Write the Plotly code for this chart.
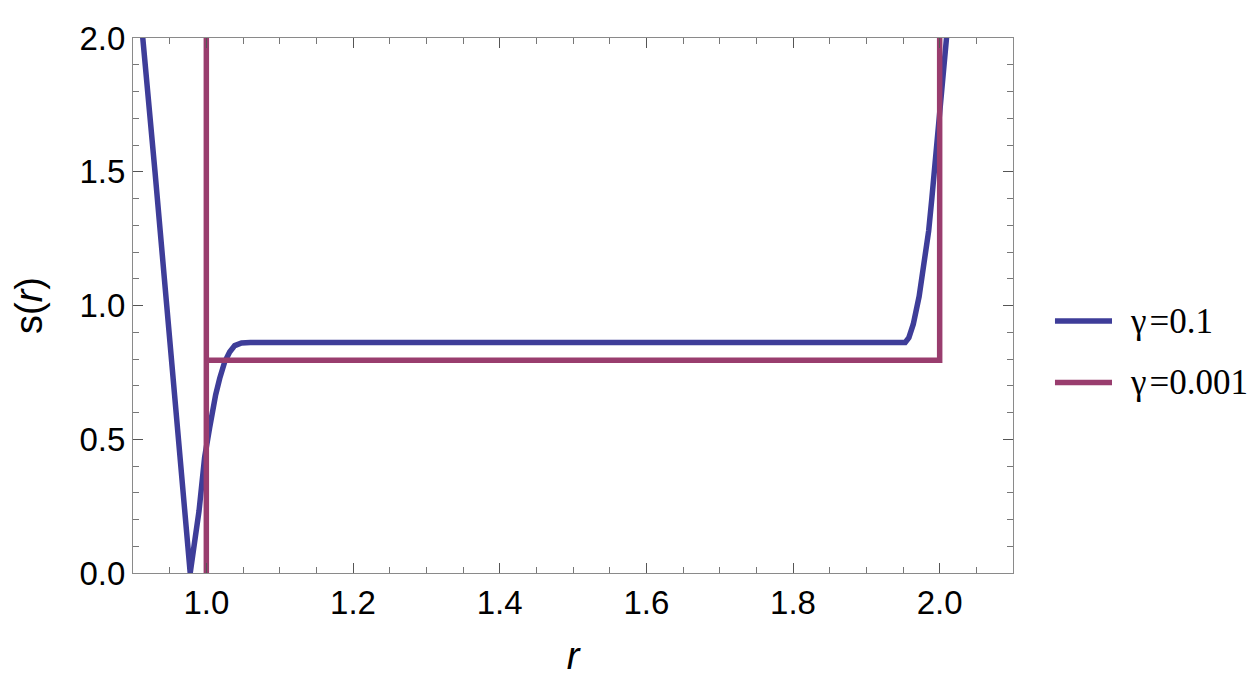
import plotly.graph_objects as go

# --- data ---
r_blue = [0.910, 0.9135, 0.930, 0.946, 0.962, 0.978, 0.990, 0.9977, 1.0045, 1.0082,
          1.0127, 1.0182, 1.0250, 1.0318, 1.0387, 1.048, 1.060, 1.500, 1.940, 1.953,
          1.958, 1.964, 1.972, 1.979, 1.985, 1.9894, 1.9935, 1.9978, 2.0014, 2.0055, 2.009, 2.012]
s_blue = [2.10, 2.0, 1.5, 1.0, 0.5, 0.0, 0.231, 0.433, 0.543, 0.605,
          0.666, 0.727, 0.789, 0.826, 0.850, 0.860, 0.862, 0.862, 0.862, 0.862,
          0.880, 0.930, 1.034, 1.157, 1.279, 1.402, 1.525, 1.647, 1.770, 1.893, 2.0, 2.08]

r_red = [1.0, 1.0, 1.0, 2.0, 2.0]
s_red = [2.10, 0.0, 0.795, 0.795, 2.10]

legend_labels = ["γ\u200a=0.1", "γ\u200a=0.001"]
colors = ["#3e3d99", "#993d6e"]

x_range = [0.9, 2.1]
y_range = [0.0, 2.0]

fig = go.Figure()
fig.add_trace(go.Scatter(x=r_blue, y=s_blue, mode="lines", name=legend_labels[0],
                         line=dict(color=colors[0], width=5.5), showlegend=False))
fig.add_trace(go.Scatter(x=r_red, y=s_red, mode="lines", name=legend_labels[1],
                         line=dict(color=colors[1], width=5.5), showlegend=False))

axis_common = dict(
    showgrid=False, zeroline=False,
    showline=True, linecolor="#8a8a8a", linewidth=1, mirror="allticks",
    ticks="inside", ticklen=10, tickwidth=1, tickcolor="#555555",
    tickfont=dict(family="Liberation Sans, Arial", size=33, color="black"),
    tickformat=".1f",
)

fig.update_xaxes(range=x_range, tick0=0, dtick=0.2,
                 minor=dict(dtick=0.05, ticks="inside", ticklen=6, tickcolor="#777777"),
                 title=dict(text="<i>r</i>", font=dict(family="Liberation Sans, Arial", size=38, color="black"),
                            standoff=22),
                 **axis_common)
fig.update_yaxes(range=y_range, tick0=0, dtick=0.5,
                 minor=dict(dtick=0.1, ticks="inside", ticklen=6, tickcolor="#777777"),
                 title=dict(text="s(<i>r</i>)", font=dict(family="Liberation Sans, Arial", size=38, color="black"),
                            standoff=28),
                 **axis_common)

# custom legend (line samples + labels) to the right of the frame
leg_y = [0.471, 0.356]
for i in range(2):
    fig.add_shape(type="line", xref="paper", yref="paper",
                  x0=1.0477, x1=1.1125, y0=leg_y[i], y1=leg_y[i],
                  line=dict(color=colors[i], width=5.5))
    fig.add_annotation(xref="paper", yref="paper", x=1.131, y=leg_y[i],
                       xanchor="left", yanchor="middle", showarrow=False,
                       text=legend_labels[i],
                       font=dict(family="Liberation Serif, Times New Roman", size=35, color="black"))

fig.update_layout(
    width=1260, height=688,
    margin=dict(l=125, r=255, t=21, b=123),
    paper_bgcolor="white", plot_bgcolor="white",
    showlegend=False,
)

fig.write_html("out.html")
